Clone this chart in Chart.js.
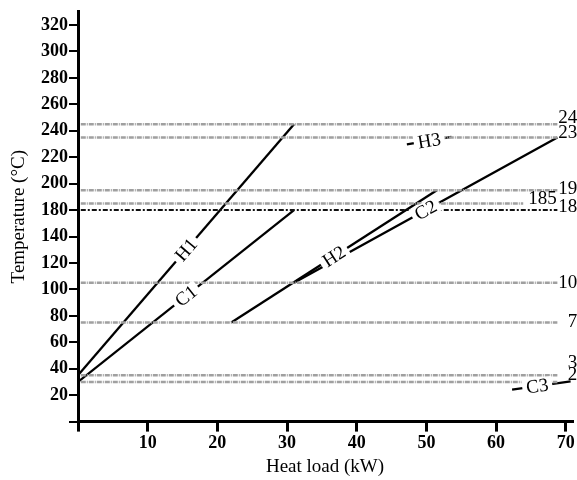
<!DOCTYPE html>
<html>
<head>
<meta charset="utf-8">
<script src="https://cdn.jsdelivr.net/npm/chart.js@4/dist/chart.umd.min.js"></script>
<style>
    body { margin: 0; background: #fff; }
    canvas { display: block; }
</style>
</head>
<body>
<canvas id="chart" width="577" height="480"></canvas>
<script>
// streams (heat load in kW, temperature in °C)
const streamNames = ["H1", "C1", "H2", "C2", "H3", "C3"];
const loadStart = [0, 0, 22, 31, 47.2, 62.3];
const loadEnd = [31, 31, 51.5, 68.8, 53.6, 70.7];
const tempStart = [35, 30, 75, 105, 229.7, 24.2];
const tempEnd = [245, 180, 195, 235, 235.4, 30.5];

// dotted reference temperatures and the text written at their ends
const refTemps = [245, 235, 195, 185, 180, 105, 75, 35, 30];
const refText = ["245", "235", "195", "185", "180", "105", "75", "35", "25"];
const refEnd = [68.8, 68.8, 68.8, 63.9, 68.8, 68.8, 68.8, 68.8, 68.8];

// axis ticks
const xTicks = [0, 10, 20, 30, 40, 50, 60, 70];
const yTicks = [0, 20, 40, 60, 80, 100, 120, 140, 160, 180, 200, 220, 240, 260, 280, 300];

// the original axis skips 160: everything above 140 sits 20 lower
function toAxis(t) {
    return t > 150 ? t - 20 : t;
}
function axisLabel(v) {
    if (v === 0) return "";
    return v <= 140 ? v : v + 20;
}

const serif = "'Liberation Serif', 'Times New Roman', serif";

let datasets = [];

for (let i = 0; i < refTemps.length; i++) {
    let dark = refTemps[i] === 180;
    datasets.push({
        data: [{ x: 0.4, y: toAxis(refTemps[i]) }, { x: refEnd[i], y: toAxis(refTemps[i]) }],
        borderColor: dark ? "#111" : "#a0a0a0",
        borderWidth: dark ? 2 : 2.5,
        borderDash: dark ? [5, 2, 2, 2] : [5, 1, 1, 1],
        pointRadius: 0,
        showLine: true
    });
}

for (let i = 0; i < streamNames.length; i++) {
    datasets.push({
        label: streamNames[i],
        data: [{ x: loadStart[i], y: toAxis(tempStart[i]) }, { x: loadEnd[i], y: toAxis(tempEnd[i]) }],
        borderColor: "#000",
        borderWidth: 2.3,
        pointRadius: 0,
        showLine: true,
        stream: true
    });
}

// stream names written along their lines
const lineLabels = {
    id: "lineLabels",
    afterDatasetsDraw(chart) {
        const ctx = chart.ctx;
        chart.data.datasets.forEach((ds, i) => {
            if (!ds.stream) return;
            const pts = chart.getDatasetMeta(i).data;
            const a = pts[0], b = pts[1];
            const t = ds.label === "C3" ? 0.43 : 0.5;
            const x = a.x + (b.x - a.x) * t;
            const y = a.y + (b.y - a.y) * t;
            ctx.save();
            ctx.translate(x, y);
            ctx.rotate(Math.atan2(b.y - a.y, b.x - a.x));
            ctx.font = "19px " + serif;
            const w = ctx.measureText(ds.label).width;
            ctx.fillStyle = "#fff";
            ctx.fillRect(-w / 2 - 4, -8, w + 8, 16);
            ctx.fillStyle = "#000";
            ctx.textAlign = "center";
            ctx.textBaseline = "middle";
            ctx.fillText(ds.label, 0, 1);
            ctx.restore();
        });
    }
};

// temperature values at the right end of the dotted lines
const refLabels = {
    id: "refLabels",
    afterDraw(chart) {
        const ctx = chart.ctx;
        const xs = chart.scales.x, ys = chart.scales.y;
        const nudge = { 245: -6, 235: -4, 195: -1, 185: -4, 180: -3, 105: 0, 75: 0, 35: -12, 30: -7 };
        ctx.save();
        ctx.font = "19px " + serif;
        ctx.fillStyle = "#000";
        ctx.textBaseline = "middle";
        for (let i = 0; i < refTemps.length; i++) {
            const y = ys.getPixelForValue(toAxis(refTemps[i])) + nudge[refTemps[i]];
            if (refEnd[i] < 68) {
                ctx.textAlign = "left";
                ctx.fillText(refText[i], xs.getPixelForValue(refEnd[i]) + 5, y);
            } else {
                ctx.textAlign = "right";
                ctx.fillText(refText[i], xs.getPixelForValue(73), y);
            }
        }
        ctx.restore();
    }
};

new Chart(document.getElementById("chart"), {
    type: "scatter",
    data: { datasets: datasets },
    options: {
        responsive: false,
        animation: false,
        layout: { padding: { top: 6, right: 5, bottom: 2, left: 0 } },
        plugins: {
            legend: { display: false },
            tooltip: { enabled: false }
        },
        scales: {
            x: {
                type: "linear",
                min: 0,
                max: 70.9,
                afterBuildTicks: axis => { axis.ticks = xTicks.map(v => ({ value: v })); },
                border: { color: "#000", width: 3 },
                grid: { drawOnChartArea: false, drawTicks: true, tickLength: 10, color: "#000", lineWidth: 3 },
                ticks: {
                    color: "#000",
                    padding: 1,
                    maxRotation: 0,
                    font: { family: serif, size: 18, weight: "bold" },
                    callback: v => (v === 0 ? "" : v)
                },
                title: {
                    display: true,
                    text: "Heat load (kW)",
                    color: "#000",
                    padding: 0,
                    font: { family: serif, size: 19 }
                }
            },
            y: {
                type: "linear",
                min: 0,
                max: 310,
                afterBuildTicks: axis => { axis.ticks = yTicks.map(v => ({ value: v })); },
                afterFit: scale => { scale.width = 78; },
                border: { color: "#000", width: 3 },
                grid: { drawOnChartArea: false, drawTicks: true, tickLength: 9, color: "#000", lineWidth: 2 },
                ticks: {
                    color: "#000",
                    padding: 1,
                    font: { family: serif, size: 18, weight: "bold" },
                    callback: v => axisLabel(v)
                },
                title: {
                    display: true,
                    text: "Temperature (°C)",
                    color: "#000",
                    padding: { top: 8, bottom: 0 },
                    font: { family: serif, size: 19 }
                }
            }
        }
    },
    plugins: [lineLabels, refLabels]
});
</script>
</body>
</html>
